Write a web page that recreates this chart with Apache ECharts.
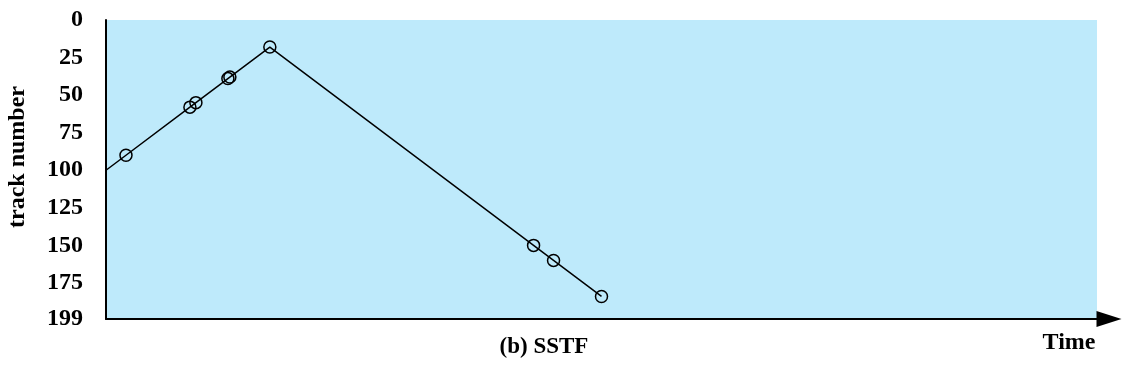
<!DOCTYPE html>
<html>
<head>
<meta charset="utf-8">
<script src="https://cdn.jsdelivr.net/npm/echarts@6/dist/echarts.min.js"></script>
<style>html,body{margin:0;padding:0;background:#fff}#c{width:1130px;height:365px}</style>
</head>
<body>
<div id="c"></div>
<script>
// SSTF service order (track numbers), starting at track 100
const tracks = [100, 90, 58, 55, 39, 38, 18, 150, 160, 184];
// time axis position (proportional to cumulative head movement)
const times = [0, 10, 42, 45, 61, 62, 82, 214, 224, 248];
const yTickLabels = [0, 25, 50, 75, 100, 125, 150, 175, 199];
const caption = '(b) SSTF';
const xName = 'Time';
const yName = 'track number';

const font = 'Liberation Serif, Times New Roman, serif';
const chart = echarts.init(document.getElementById('c'), null, {renderer: 'canvas'});
const data = times.map((t, i) => i === 0 ? {value: [t, tracks[i]], symbol: 'none'} : [t, tracks[i]]);

chart.setOption({
  animation: false,
  grid: {left: 106, top: 20, right: 33, bottom: 46, show: true, backgroundColor: '#BEEAFB', borderWidth: 0, containLabel: false, outerBoundsMode: 'none'},
  xAxis: {
    type: 'value', min: 0, max: 496, position: 'bottom',
    axisLine: {show: true, onZero: false, lineStyle: {color: '#000', width: 2}, symbol: ['none', 'triangle'], symbolSize: [16, 25], symbolOffset: [0, 12]},
    axisTick: {show: false}, axisLabel: {show: false}, splitLine: {show: false}
  },
  yAxis: {
    type: 'value', min: 0, max: 199, inverse: true,
    axisLine: {show: true, onZero: false, lineStyle: {color: '#000', width: 2}},
    axisTick: {show: false}, splitLine: {show: false},
    axisLabel: {customValues: yTickLabels, fontFamily: font, fontWeight: 'bold', fontSize: 24, color: '#000', margin: 23}
  },
  graphic: [
    {type: 'text', x: 18, y: 157, rotation: Math.PI / 2,
     style: {text: yName, font: 'bold 24px ' + font, fill: '#000', align: 'center', verticalAlign: 'middle'}},
    {type: 'text', x: 544, y: 347, style: {text: caption, font: 'bold 23px ' + font, fill: '#000', align: 'center', verticalAlign: 'middle'}},
    {type: 'text', x: 1069, y: 343, style: {text: xName, font: 'bold 24px ' + font, fill: '#000', align: 'center', verticalAlign: 'middle'}}
  ],
  series: [{
    type: 'line', data: data,
    lineStyle: {color: '#000', width: 1.5},
    symbol: 'circle', symbolSize: 12,
    itemStyle: {color: 'rgba(0,0,0,0)', borderColor: '#000', borderWidth: 1.5},
    z: 5
  }]
});
</script>
</body>
</html>
